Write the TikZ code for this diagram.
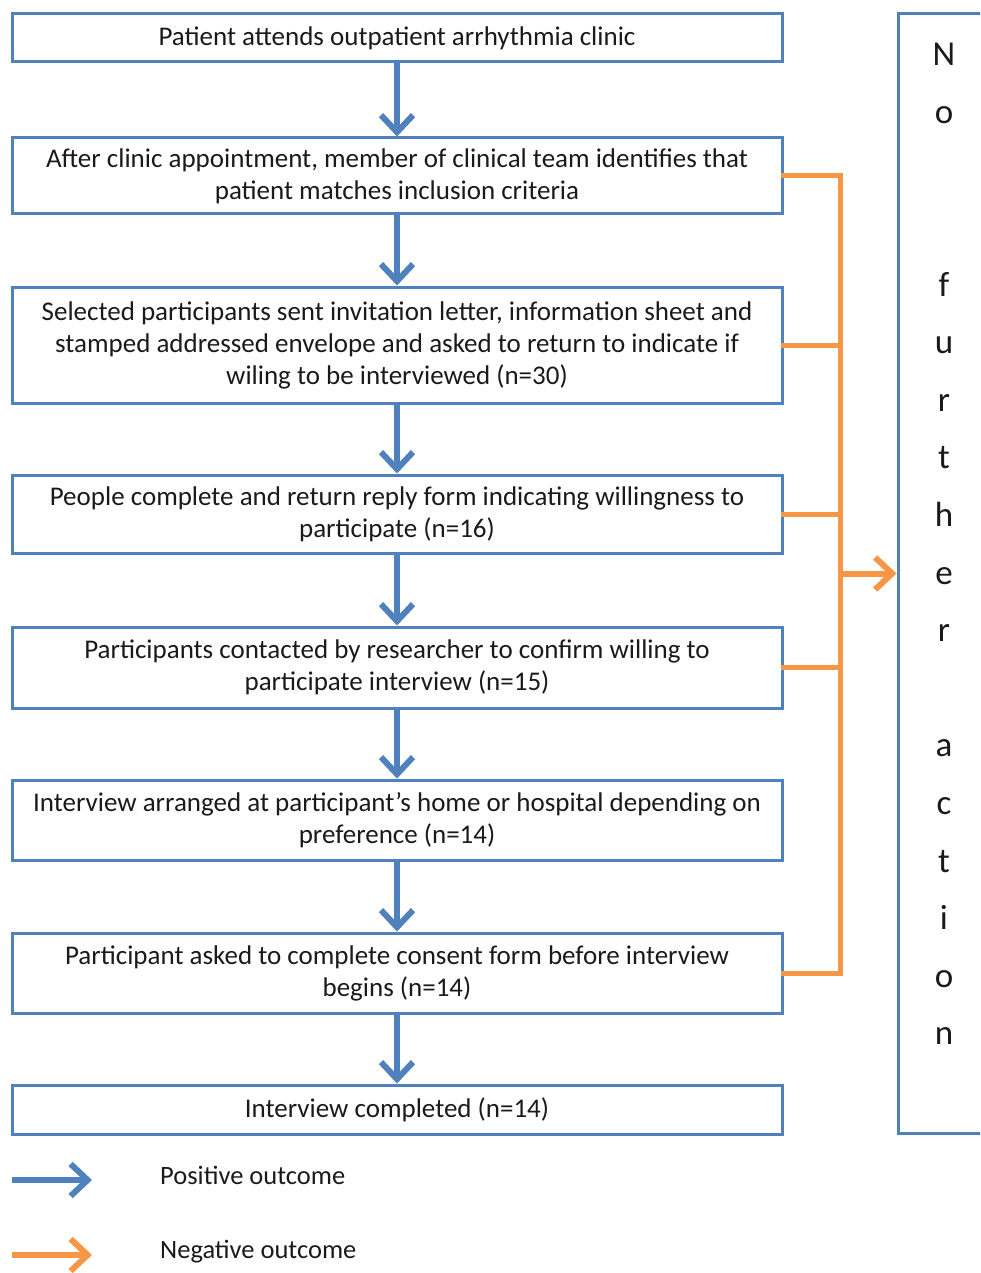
\documentclass[tikz,border=0pt]{standalone}
\usepackage{fontspec}
\setmainfont{Carlito}
\usetikzlibrary{arrows.meta}
\definecolor{obox}{HTML}{4F81BD}
\definecolor{oarr}{HTML}{F79646}
\definecolor{txt}{HTML}{1A1A1A}
\tikzset{
  flowbox/.style={draw=obox, line width=3pt, minimum width=770pt, inner sep=0pt,
    align=center, text=txt, font=\fontsize{27}{32}\selectfont},
  posarrow/.style={draw=obox, line width=6pt, -{Straight Barb[length=17pt,width=32pt]}},
  negline/.style={draw=oarr, line width=5pt, line cap=rect},
  negarrow/.style={draw=oarr, line width=6pt, -{Straight Barb[length=17pt,width=32pt]}},
  legendtext/.style={anchor=west, text=txt, font=\fontsize{26.5}{32}\selectfont, inner sep=0pt},
}
\begin{document}
\begin{tikzpicture}[x=1pt,y=-1pt]
\useasboundingbox (0,0) rectangle (980,1273);
\begin{scope}
\clip (0,0) rectangle (980,1273);
\node[draw=obox, line width=3pt, minimum width=100pt, minimum height=1119pt, inner sep=0pt] (nfa) at (948,573.5) {};
\end{scope}
\node[text=txt, align=center, inner sep=0pt, font=\fontsize{35}{57.6}\selectfont] (nfatext) at (944,544)
  {N\\o\\ \\ \\f\\u\\r\\t\\h\\e\\r\\ \\a\\c\\t\\i\\o\\n};

\node[flowbox, minimum height=48pt] (b1) at (397,38) {Patient attends outpatient arrhythmia clinic};
\node[flowbox, minimum height=76pt] (b2) at (397,176) {After clinic appointment, member of clinical team identifies that\\patient matches inclusion criteria};
\node[flowbox, minimum height=116pt] (b3) at (397,345) {Selected participants sent invitation letter, information sheet and\\stamped addressed envelope and asked to return to indicate if\\wiling to be interviewed (n=30)};
\node[flowbox, minimum height=78pt] (b4) at (397,514) {People complete and return reply form indicating willingness to\\participate (n=16)};
\node[flowbox, minimum height=81pt] (b5) at (397,667.5) {Participants contacted by researcher to confirm willing to\\participate interview (n=15)};
\node[flowbox, minimum height=80pt] (b6) at (397,820) {Interview arranged at participant’s home or hospital depending on\\preference (n=14)};
\node[flowbox, minimum height=80pt] (b7) at (397,973) {Participant asked to complete consent form before interview\\begins (n=14)};
\node[flowbox, minimum height=49pt] (b8) at (397,1109.5) {Interview completed (n=14)};

\foreach \a/\b in {b1/b2,b2/b3,b3/b4,b4/b5,b5/b6,b6/b7,b7/b8}
  \draw[posarrow] (\a.south) -- (\b.north);

\coordinate (bus) at (840,0);
\draw[negline] (b2.east) -| (bus |- b7.east) -- (b7.east);
\foreach \a in {b3,b4,b5}
  \draw[negline] (\a.east) -- (\a.east -| bus);
\draw[negarrow] (bus |- nfa.west) -- (nfa.west);

\coordinate (lp1) at (12,1180);
\coordinate (lp2) at (92,1180);
\coordinate (ln1) at (12,1255);
\coordinate (ln2) at (92,1255);
\draw[posarrow] (lp1) -- (lp2);
\draw[negarrow] (ln1) -- (ln2);
\node[legendtext] (lpt) at (160,1175) {Positive outcome};
\node[legendtext] (lnt) at (160,1252) {Negative outcome};
\end{tikzpicture}
\end{document}
